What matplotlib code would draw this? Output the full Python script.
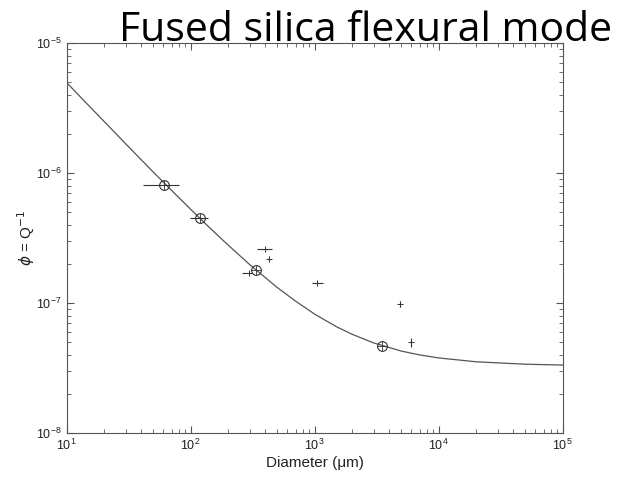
import numpy as np
import matplotlib
matplotlib.use("Agg")
import matplotlib.pyplot as plt

# model curve
curve_d = [10, 15, 20, 30, 50, 70, 100, 150, 200, 300, 500, 700, 1000, 1500,
           2000, 3000, 5000, 7000, 1e4, 2e4, 5e4, 1e5]
curve_phi = [4.98e-6, 3.33e-6, 2.51e-6, 1.68e-6, 1.02e-6, 7.40e-7, 5.28e-7,
             3.63e-7, 2.81e-7, 1.98e-7, 1.32e-7, 1.04e-7, 8.25e-8, 6.60e-8,
             5.78e-8, 4.95e-8, 4.29e-8, 4.01e-8, 3.80e-8, 3.55e-8, 3.40e-8, 3.35e-8]

# circled points (on the curve)
circ_d = [61.3, 119, 334, 3470]
circ_phi = [8.13e-7, 4.51e-7, 1.80e-7, 4.72e-8]
circ_dlo = [41.5, 98.6, 334, 3470]
circ_dhi = [80.9, 138.6, 334, 3470]

# other measurements
meas_d = [295, 397, 431, 1037, 4875, 5940]
meas_phi = [1.70e-7, 2.62e-7, 2.19e-7, 1.43e-7, 9.89e-8, 5.01e-8]
meas_dlo = [258, 344, 420, 946, 4875, 5940]
meas_dhi = [310, 450, 442, 1161, 4875, 5940]
meas_plo = [1.70e-7, 2.62e-7, 2.15e-7, 1.43e-7, 9.3e-8, 4.6e-8]
meas_phi_hi = [1.70e-7, 2.62e-7, 2.23e-7, 1.43e-7, 1.05e-7, 5.4e-8]

plt.rcParams['font.family'] = ['Liberation Sans', 'DejaVu Sans']
plt.rcParams['mathtext.fontset'] = 'dejavusans'

fig = plt.figure(figsize=(6.24, 4.79), dpi=100)
ax = fig.add_axes([0.1069, 0.0954, 0.7949, 0.8142])

gray = '#555555'
ax.plot(curve_d, curve_phi, color=gray, lw=0.9)

cd = np.array(circ_d)
cp = np.array(circ_phi)
ax.errorbar(cd, cp, xerr=[cd - np.array(circ_dlo), np.array(circ_dhi) - cd],
            fmt='none', ecolor='#333333', elinewidth=0.8, capsize=0)
ax.plot(cd, cp, 'o', mfc='none', mec='#333333', ms=7, mew=0.8)
ax.plot(cd, cp, '+', color='#333333', ms=7, mew=0.6)

md = np.array(meas_d)
mp = np.array(meas_phi)
ax.errorbar(md, mp,
            xerr=[md - np.array(meas_dlo), np.array(meas_dhi) - md],
            yerr=[mp - np.array(meas_plo), np.array(meas_phi_hi) - mp],
            fmt='+', color='#333333', ms=4, mew=0.7, elinewidth=0.8, capsize=0)

ax.set_xscale('log')
ax.set_yscale('log')
ax.set_xlim(10, 1e5)
ax.set_ylim(1e-8, 1e-5)

for s in ax.spines.values():
    s.set_color(gray)
ax.tick_params(which='both', direction='in', top=True, right=True, colors=gray,
               labelcolor='#222222', labelsize=9)
ax.tick_params(which='major', length=5)
ax.tick_params(which='minor', length=3)

ax.set_xlabel('Diameter (\u03bcm)', fontsize=11, color='#222222', labelpad=2)
ax.set_ylabel(r'$\phi$ = Q$^{-1}$', fontsize=11, color='#222222')
ax.yaxis.set_label_coords(-0.06, 0.5)

fig.text(0.981, 0.914, 'Fused silica flexural mode', ha='right', va='baseline',
         fontsize=29.5, family=['Open Sans', 'DejaVu Sans'], zorder=10)

fig.savefig('out.png', dpi=100)
